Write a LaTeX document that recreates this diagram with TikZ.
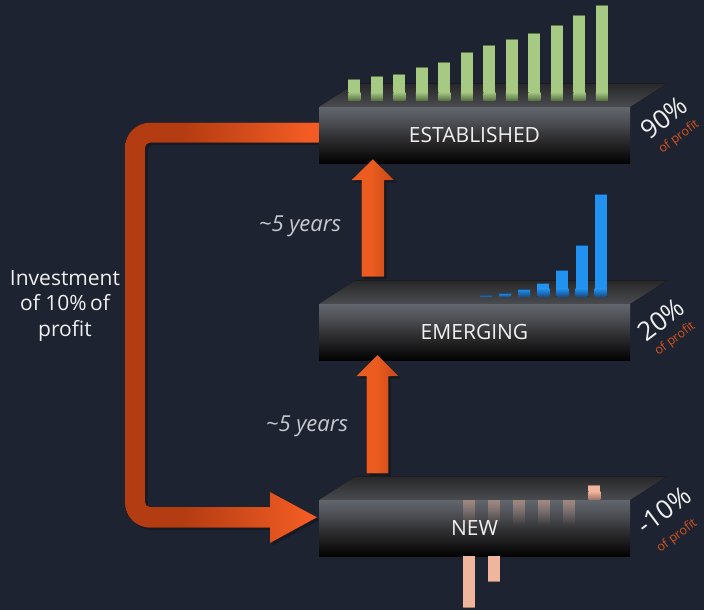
\documentclass[tikz,border=0pt]{standalone}
\usepackage{fontspec}
\setmainfont{Open Sans}
\usetikzlibrary{fadings,calc}

% palette
\definecolor{bg}{RGB}{30,35,49}
\definecolor{ftop}{RGB}{97,101,108}
\definecolor{fhigh}{RGB}{84,87,93}
\definecolor{fmid}{RGB}{48,48,50}
\definecolor{fbot}{RGB}{2,2,2}
\definecolor{tfront}{RGB}{74,75,79}
\definecolor{tback}{RGB}{40,40,42}
\definecolor{odark}{RGB}{180,60,18}
\definecolor{obright}{RGB}{242,92,36}
\definecolor{oupl}{RGB}{236,92,32}
\definecolor{oupr}{RGB}{196,72,22}
\definecolor{gbar}{RGB}{166,201,132}
\definecolor{gdark}{RGB}{92,118,70}
\definecolor{bbar}{RGB}{34,146,240}
\definecolor{bdark}{RGB}{22,78,138}
\definecolor{sbar}{RGB}{240,181,157}
\definecolor{sdark}{RGB}{160,118,102}
\definecolor{txt}{RGB}{240,240,240}
\definecolor{soft}{RGB}{200,202,208}
\definecolor{ofp}{RGB}{214,84,30}

% shadings
\pgfdeclareverticalshading{frontshade}{100bp}{color(0bp)=(fbot); color(25bp)=(fbot); color(48bp)=(fmid); color(66bp)=(fhigh); color(75bp)=(ftop); color(100bp)=(ftop)}
\pgfdeclareverticalshading{topshade}{100bp}{color(0bp)=(tfront); color(25bp)=(tfront); color(75bp)=(tback); color(100bp)=(tback)}
\pgfdeclarehorizontalshading{loopshade}{100bp}{color(0bp)=(odark); color(25bp)=(odark); color(40bp)=(odark); color(72bp)=(obright); color(100bp)=(obright)}
\pgfdeclarehorizontalshading{upshade}{100bp}{color(0bp)=(oupl); color(25bp)=(oupl); color(48bp)=(oupl); color(75bp)=(oupr); color(100bp)=(oupr)}

\tikzset{
  frontface/.style={rectangle, shading=frontshade, minimum width=311pt, minimum height=56pt,
    inner sep=0pt, text=txt, font=\fontsize{21}{21}\selectfont},
  topface/.style={shading=topshade},
  pct/.style={text=txt, inner sep=0pt, rotate=37, font=\fontsize{26}{26}\selectfont},
  ofprofit/.style={text=ofp, inner sep=0pt, rotate=37, font=\fontsize{12.5}{12.5}\selectfont},
  yearslbl/.style={text=soft, inner sep=0pt, font=\itshape\fontsize{22}{22}\selectfont},
  uparrow/.style={shading=upshade},
  loop/.style={shading=loopshade},
  softshadow/.style={fill=black, fill opacity=0.25}
}

% top face of a platform whose front face starts at height #1
\newcommand\topslab[1]{%
  \fill[topface] (319,#1) -- (630,#1) -- (667,#1-23.5) -- (355,#1-23.5) -- cycle;}

% one bar: left edge, top, bottom, colour, dark colour
\newcommand\barpiece[5]{%
  \pgfmathsetmacro\fadetop{max(#2,#3-8)}%
  \fill[#4] (#1,#2) rectangle (#1+12,#3);
  \fill[top color=#4, bottom color=#5] (#1,\fadetop) rectangle (#1+12,#3);
  \draw[#5, line width=0.7pt] (#1,#2) -- (#1+12,#2);}

% outline of the reinvestment loop, shifted by (#1,#2)
\newcommand\looppath[2]{%
  ([shift={(#1,#2)}]319,122.7) -- ++(-169,0)
  .. controls ++(-13.8,0) and ++(0,-13.8) .. ++(-25,25)
  -- ++(0,355)
  .. controls ++(0,13.8) and ++(-13.8,0) .. ++(25,25)
  -- ++(120,0) -- ++(0,15.3) -- ++(47,-25.7) -- ++(-47,-25.3) -- ++(0,15)
  -- ++(-120,0)
  .. controls ++(-2.8,0) and ++(0,2.8) .. ++(-5,-5)
  -- ++(0,-354.3)
  .. controls ++(0,-2.8) and ++(-2.8,0) .. ++(5,-5)
  -- ++(169,0) -- cycle}

% block arrow pointing up: left of shaft, shaft bottom, shaft width, head base, tip y
\newcommand\uppath[7]{%
  ([shift={(#6,#7)}]#1,#2) -- ++(0,#4-#2) -- ++(-10,0) -- ++(10+#3/2,#5-#4)
  -- ++(10+#3/2,#4-#5) -- ++(-10,0) -- ++(0,#2-#4) -- cycle}

\begin{document}
\begin{tikzpicture}[x=1pt,y=-1pt]
\fill[bg] (0,0) rectangle (704,610);
\useasboundingbox (0,0) rectangle (704,610);

% reinvestment loop from ESTABLISHED back to NEW
\fill[softshadow] \looppath{2.5}{2.5};
\fill[loop] \looppath{0}{0};

\node[text=txt, align=center, inner sep=0pt, font=\fontsize{21}{25.5}\selectfont]
  (invest) at (65,306) {Investment\\of 10\%\,of\\profit};

% ---------- ESTABLISHED ----------
\topslab{107}
\foreach \i/\t in {0/79,1/76,2/74,3/67.7,4/62.3,5/52.3,6/45.3,7/39,8/33,9/25,10/15.3,11/5.7}{
  \barpiece{348.3+22.5*\i}{\t}{100}{gbar}{gdark}
}
\node[frontface] (est) at (474.5,135) {ESTABLISHED};
\node[pct] (p90) at (664,118) {90\%};
\node[ofprofit] (o90) at (679,137) {of profit};

% ---------- EMERGING ----------
\topslab{304}
\foreach \i/\t in {0/295,1/293.3,2/289,3/283.3,4/270.7,5/245,6/194}{
  \barpiece{480+19.1*\i}{\t}{296.5}{bbar}{bdark}
}
\node[frontface] (emg) at (474.5,332) {EMERGING};
\node[pct] (p20) at (661,320) {20\%};
\node[ofprofit] (o20) at (675,339) {of profit};

% ---------- NEW ----------
\topslab{500}
\barpiece{588.3}{485.7}{499.3}{sbar}{sdark}
\node[frontface] (new) at (474.5,528) {NEW};
\foreach \i in {0,...,4}{
  \fill[sbar, fill opacity=0.45, path fading=south] (463.3+25*\i,500) rectangle (475.3+25*\i,525);
}
\fill[sbar] (463.3,556) rectangle (475.3,607);
\draw[sdark, line width=0.7pt] (463.3,607) -- (475.3,607);
\fill[sbar] (488.3,556) rectangle (500.3,581.7);
\draw[sdark, line width=0.7pt] (488.3,581.7) -- (500.3,581.7);
\node[pct] (p10) at (664,510) {-10\%};
\node[ofprofit] (o10) at (677,536) {of profit};

% ---------- growth arrows ----------
\fill[softshadow] \uppath{361.7}{276.7}{22.3}{180}{159.3}{2.5}{2.5};
\fill[uparrow] \uppath{361.7}{276.7}{22.3}{180}{159.3}{0}{0};
\fill[softshadow] \uppath{366.7}{473.3}{21.6}{376}{355}{2.5}{2.5};
\fill[uparrow] \uppath{366.7}{473.3}{21.6}{376}{355}{0}{0};

\node[yearslbl] (y1) at (300,226) {\textasciitilde5 years};
\node[yearslbl] (y2) at (307,426) {\textasciitilde5 years};
\end{tikzpicture}
\end{document}
